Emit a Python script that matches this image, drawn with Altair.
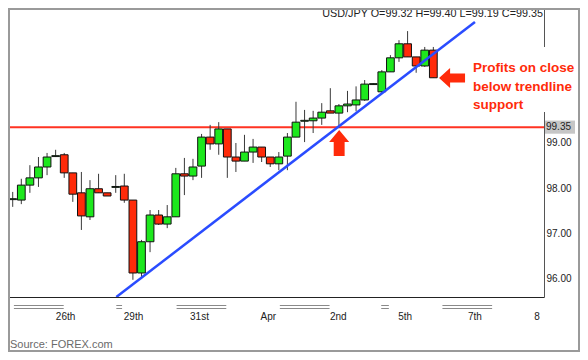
import altair as alt
import pandas as pd

# ---- candle data (USD/JPY) ----
opens = [97.75, 97.74, 98.07, 98.23, 98.47, 98.70, 98.74, 98.34, 97.90, 97.37,
         97.99, 97.90, 98.02, 98.05, 97.74, 96.13, 96.82, 97.41, 97.21, 97.37,
         98.32, 98.27, 98.49, 99.13, 98.98, 99.31, 98.69, 98.60, 98.80, 98.91,
         98.69, 98.54, 98.71, 99.13, 99.48, 99.49, 99.55, 99.71, 99.66, 99.82,
         99.84, 99.95, 100.29, 100.13, 100.57, 100.88, 101.19, 100.90, 100.70, 101.05]
highs = [97.92, 98.21, 98.51, 98.69, 98.78, 98.85, 98.78, 98.34, 98.36, 98.18,
         98.32, 97.90, 98.29, 98.32, 97.74, 96.86, 97.52, 97.52, 97.63, 98.45,
         98.67, 98.65, 99.20, 99.40, 99.46, 99.31, 99.00, 99.18, 99.09, 98.91,
         98.69, 98.80, 99.22, 99.91, 99.73, 99.71, 99.88, 100.21, 99.86, 100.15,
         100.25, 100.39, 100.32, 100.61, 100.94, 101.27, 101.47, 100.90, 101.12, 101.12]
lows = [97.59, 97.65, 97.90, 98.03, 98.29, 98.69, 98.23, 97.70, 97.08, 97.30,
        97.90, 97.83, 97.90, 97.68, 95.98, 96.04, 96.59, 97.19, 97.12, 97.37,
        97.85, 98.18, 98.23, 98.85, 98.74, 98.23, 98.36, 98.60, 98.56, 98.58,
        98.47, 98.40, 98.40, 99.13, 99.02, 99.22, 99.40, 99.66, 99.33, 99.68,
        99.70, 99.93, 100.28, 100.10, 100.57, 100.79, 100.90, 100.55, 100.68, 100.44]
closes = [97.77, 98.07, 98.23, 98.47, 98.69, 98.72, 98.34, 97.87, 97.39, 97.99,
          97.90, 97.83, 98.04, 97.74, 96.13, 96.82, 97.41, 97.21, 97.37, 98.32,
          98.27, 98.47, 99.13, 98.98, 99.31, 98.69, 98.60, 98.80, 98.91, 98.69,
          98.54, 98.69, 99.13, 99.46, 99.50, 99.55, 99.68, 99.66, 99.82, 99.86,
          99.95, 100.30, 100.31, 100.57, 100.88, 101.19, 100.90, 100.70, 101.05, 100.44]

level = 99.35
trend_idx = [12.07, 53.85]
trend_val = [95.60, 101.67]

y_ticks = [96, 97, 98, 99, 101]
date_labels = ["26th", "29th", "31st", "Apr", "2nd", "5th", "7th", "8"]
date_pos = [6.16, 14.07, 21.76, 29.78, 37.92, 45.72, 53.85, 61.09]
sep_start = [0.14, 12.07, 19.09, 31.12, 42.93, 50.06]
sep_end = [5.94, 12.74, 24.88, 36.91, 43.82, 55.85]

arrow_up_pos = (38.03, 99.0)
arrow_left_pos = (51.18, 100.435)

title_text = "USD/JPY O=99.32 H=99.40 L=99.19 C=99.35"
note_lines = ["Profits on close", "below trendline", "support"]
source_text = "Source: FOREX.com"

GREEN = "#1de81d"
RED = "#ff2b0a"
BLUE = "#2a4cff"
FONT = "Liberation Sans"

W, H = 536, 289
PAD_R, PAD_B = 36, 55
TOTAL_W, TOTAL_H = W + PAD_R, H + PAD_B

candles = pd.DataFrame({
    "idx": list(range(len(opens))),
    "open": opens, "high": highs, "low": lows, "close": closes,
})
trend = pd.DataFrame({"idx": trend_idx, "val": trend_val})
dates = pd.DataFrame({"pos": date_pos, "label": date_labels})
seps = pd.DataFrame({"s": sep_start, "e": sep_end})
one = pd.DataFrame({"a": [0]})

xs = alt.Scale(domain=[0.033, 61.31], nice=False, zero=False)
ys = alt.Scale(domain=[95.60, 101.98], nice=False, zero=False)
xax = alt.Axis(title=None, labels=False, ticks=False, grid=False, domain=True,
               domainColor="#222222", domainWidth=1)
yax = alt.Axis(orient="right", values=y_ticks, format=".2f", title=None, ticks=False,
               tickSize=0, grid=False, labelPadding=2, labelFont=FONT, labelFontSize=10,
               labelColor="#222222", domainColor="#555555", domainWidth=1)


def X(field):
    return alt.X(field, type="quantitative", scale=xs, axis=xax)


def Y(field):
    return alt.Y(field, type="quantitative", scale=ys, axis=yax)


def YD(v):
    return alt.Y(datum=v, type="quantitative", scale=ys, axis=yax)


def XD(v):
    return alt.X(datum=v, type="quantitative", scale=xs, axis=xax)


level_line = alt.Chart(one).mark_rule(color="#ff3322", strokeWidth=2).encode(y=YD(level))

wicks = alt.Chart(candles).mark_rule(color="#3a3a3a", strokeWidth=1, clip=True).encode(
    x=X("idx"), y=Y("low"), y2="high")

bodies = alt.Chart(candles).mark_bar(width=7.75, stroke="#111111", strokeWidth=1, clip=True).encode(
    x=X("idx"), y=Y("open"), y2="close",
    color=alt.condition("datum.close >= datum.open", alt.value(GREEN), alt.value(RED)))

trendline = alt.Chart(trend).mark_line(color=BLUE, strokeWidth=2.5, clip=True).encode(
    x=X("idx"), y=Y("val"))

up_shape = "M0,-1 L0.77,-0.08 L0.42,-0.08 L0.42,1 L-0.42,1 L-0.42,-0.08 L-0.77,-0.08 Z"
left_shape = "M-1,0 L-0.15,-0.77 L-0.15,-0.35 L1,-0.35 L1,0.35 L-0.15,0.35 L-0.15,0.77 Z"

arrow_up = alt.Chart(one).mark_point(shape=up_shape, filled=True, color=RED, opacity=1,
                                     size=676, strokeWidth=0).encode(
    x=XD(arrow_up_pos[0]), y=YD(arrow_up_pos[1]))
arrow_left = alt.Chart(one).mark_point(shape=left_shape, filled=True, color=RED, opacity=1,
                                       size=676, strokeWidth=0).encode(
    x=XD(arrow_left_pos[0]), y=YD(arrow_left_pos[1]))

sep1 = alt.Chart(seps).mark_rule(color="#8a8a8a", strokeWidth=1).encode(
    x=X("s"), x2="e", y=alt.value(297.5))
sep2 = alt.Chart(seps).mark_rule(color="#8a8a8a", strokeWidth=1).encode(
    x=X("s"), x2="e", y=alt.value(300.5))

date_text = alt.Chart(dates).mark_text(font=FONT, fontSize=10, color="#222222",
                                       align="center", baseline="middle").encode(
    x=X("pos"), y=alt.value(309), text="label:N")

title = alt.Chart(one).mark_text(font=FONT, fontSize=10.8, color="#222222", align="right",
                                 baseline="alphabetic").encode(
    x=alt.value(W - 1), y=alt.value(9), text=alt.value(title_text))

note_bg = alt.Chart(one).mark_rect(color="white").encode(
    x=alt.value(460), x2=alt.value(TOTAL_W - 2), y=alt.value(39), y2=alt.value(104))

note = alt.Chart(one).mark_text(font=FONT, fontSize=13.5, fontWeight="bold", color=RED,
                                align="left", baseline="alphabetic", lineHeight=18.5).encode(
    x=alt.value(465), y=alt.value(64), text=alt.value(note_lines))

lvl_box = alt.Chart(one).mark_rect(color="#c6c6c6").encode(
    x=alt.value(W + 1), x2=alt.value(W + 31), y=YD(level + 0.145),
    y2=alt.Y2(datum=level - 0.145))
lvl_text = alt.Chart(one).mark_text(font=FONT, fontSize=10, color="#222222", align="left",
                                    baseline="middle").encode(
    x=alt.value(W + 2), y=YD(level), text=alt.value(f"{level:.2f}"))

source = alt.Chart(one).mark_text(font=FONT, fontSize=11, color="#6a6a6a", align="left",
                                  baseline="middle").encode(
    x=alt.value(2), y=alt.value(337), text=alt.value(source_text))

border = alt.Chart(one).mark_rect(fillOpacity=0, stroke="#9a9a9a", strokeWidth=2).encode(
    x=alt.value(1), x2=alt.value(TOTAL_W - 1), y=alt.value(1), y2=alt.value(TOTAL_H - 1))

chart = alt.layer(
    level_line, wicks, bodies, trendline, arrow_up, arrow_left, sep1, sep2, date_text,
    title, note_bg, note, lvl_box, lvl_text, source, border
).properties(
    width=W, height=H,
    autosize=alt.AutoSizeParams(type="none"),
    padding={"left": 0, "top": 0, "right": PAD_R, "bottom": PAD_B},
    background="white",
).configure_view(stroke=None)

chart.save("out.html", embed_options={"renderer": "svg", "actions": False})
